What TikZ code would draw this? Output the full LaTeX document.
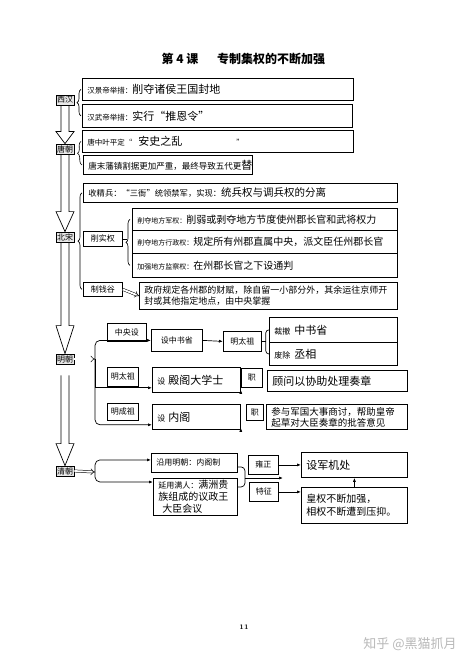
\documentclass[tikz,border=0pt]{standalone}
\usepackage{fontspec}
\newfontfamily\cjk{Noto Sans CJK SC}
\usetikzlibrary{arrows.meta,calc,decorations.pathreplacing}
\newcommand\ff[2]{\cjk\fontsize{#1}{#2}\selectfont}
\newcommand\bxn[7][]{\pgfmathsetmacro\mytw{#5-10}\node[box,minimum width=#5pt,minimum height=#6pt,text width=\mytw pt,#1] (#2) at (#3,#4) {#7};}
\newcommand\hollowarrow[4]{%
 \draw[line width=0.7pt] ($(#1.south)+(-4,#4)$) -- ($(#2.north)+(-4,-#3)$) -- ($(#2.north)+(-9,-#3)$) -- (#2.north) -- ($(#2.north)+(9,-#3)$) -- ($(#2.north)+(4,-#3)$) -- ($(#1.south)+(4,#4)$);}
\begin{document}
\begin{tikzpicture}[x=1pt,y=-1pt,
 box/.style={draw,line width=0.8pt,anchor=north west,inner xsep=5pt,inner ysep=0pt,align=left},
 lab/.style={draw,line width=0.8pt,anchor=north west,inner sep=0pt,align=center,font={\ff{8}{10}}},
 side/.style={draw,line width=0.8pt,fill=gray!18,inner sep=0.8pt,minimum width=18pt,minimum height=10pt,font={\ff{8}{9}}},
 brc/.style={decorate,decoration={brace,amplitude=4pt},line width=0.6pt},
 arr/.style={line width=0.7pt,-{Latex[length=4pt,width=3pt]}},
 dbl/.style={double,double distance=1.8pt,line width=0.5pt,-{Implies}}]
\fill[white] (0,0) rectangle (474,663);
\useasboundingbox (0,0) rectangle (474,663);

% title
\node[font={\ff{12}{14}\bfseries}] (t1) at (180,59) {第 4 课};
\node[font={\ff{12}{14}\bfseries}] (t2) at (271,59) {专制集权的不断加强};

% dynasties
\node[side] (xh) at (65,100) {西汉};
\node[side] (tc) at (65,149) {唐朝};
\node[side] (bs) at (65,237) {北宋};
\node[side] (mc) at (65,359) {明朝};
\node[side] (qc) at (65,471) {清朝};
\hollowarrow{xh}{tc}{12}{0}
\hollowarrow{tc}{bs}{20}{0}
\hollowarrow{bs}{mc}{28}{0}
\hollowarrow{mc}{qc}{22}{11}

% Han
\bxn{b1}{82}{78}{271}{22}{{\ff{7.5}{9}汉景帝举措：}{\ff{11}{13}削夺诸侯王国封地}}
\bxn{b2}{82}{104}{270}{23}{{\ff{7.5}{9}汉武帝举措：}{\ff{11}{13}实行“推恩令”}}
\draw[brc] ($(b2.west)+(-1,0)$) -- ($(b1.west)+(-1,0)$);

% Tang
\bxn{b3}{82}{130}{271}{22}{{\ff{7.5}{9}唐中叶平定“}\hspace{6pt}{\ff{11}{13}安史之乱}\hspace{54pt}{\ff{7.5}{9}”}}
\bxn{b4}{83}{155}{169}{19}{{\ff{8.5}{10}唐末藩镇割据更加严重，最终导致五代更}\rlap{\ff{11}{13}替}}
\draw[brc] ($(b4.west)+(-1,0)$) -- ($(b3.west)+(-1,0)$);

% Song
\bxn{b5}{83}{183}{314}{19}{{\ff{8.3}{10}收精兵：“三衙”统领禁军，实现：}{\ff{10.5}{12}统兵权与调兵权的分离}}
\node[lab,minimum width=39pt,minimum height=15pt] (sq) at (83,231) {削实权};
\bxn{jq}{132}{208}{265}{22}{{\ff{7}{9}削夺地方军权：}{\ff{10}{12}削弱或剥夺地方节度使州郡长官和武将权力}}
\bxn{xz}{132}{230}{265}{23}{{\ff{7}{9}削夺地方行政权：}{\ff{10}{12}规定所有州郡直属中央，派文臣任州郡长官}}
\bxn{jc}{132}{253}{265}{24}{{\ff{7}{9}加强地方监察权：}{\ff{10}{12}在州郡长官之下设通判}}
\draw[brc] ($(jc.west)+(-2,0)$) -- ($(jq.west)+(-2,0)$);
\draw[line width=0.6pt] (sq.east) -- ++(4,0);
\node[lab,minimum width=39pt,minimum height=14pt] (zq) at (83,282) {制钱谷};
\bxn[font={\ff{9}{11}}]{qg}{139}{282}{258}{27}{政府规定各州郡的财赋，除自留一小部分外，其余运往京师开\\封或其他指定地点，由中央掌握}
\draw[dbl] (zq.east) -- (qg.west);
\draw[brc] ($(zq.west)+(-1,0)$) -- ($(b5.west)+(-1,0)$);

% Ming
\node[lab,minimum width=39pt,minimum height=18pt] (zy) at (107,323) {中央设};
\node[lab,minimum width=51pt,minimum height=22pt] (sz) at (151,329) {设中书省};
\node[lab,minimum width=38pt,minimum height=20pt] (mtz) at (223,331) {明太祖};
\bxn{cc}{269}{317}{128}{25}{{\ff{8}{10}裁撤}\hspace{4pt}{\ff{11}{13}中书省}}
\bxn{fc}{269}{342}{128}{23}{{\ff{8}{10}废除}\hspace{4pt}{\ff{11}{13}丞相}}
\draw[arr] (sz.east) -- (mtz.west);
\coordinate (mb) at ($(mtz.east)+(4,0)$);
\draw[line width=0.7pt] (mtz.east) -- (mb);
\draw[line width=0.7pt,rounded corners=3pt] (cc.west) -| (mb) |- (fc.west);

\node[lab,minimum width=31pt,minimum height=19pt] (mt2) at (107,367) {明太祖};
\bxn{dg}{152}{367}{88}{25}{{\ff{8}{10}设}\hspace{3pt}{\ff{11}{13}殿阁大学士}}
\node[lab,minimum width=21pt,minimum height=19pt] (z1) at (241,368) {职};
\bxn{gw}{267}{370}{140}{21}{{\ff{11}{13}顾问以协助处理奏章}}
\draw[arr] ($(dg.south east)+(0,-3)$) -- ($(dg.south east)+(0,-3)$ -| gw.west);

\node[lab,minimum width=31pt,minimum height=17pt] (mcz) at (107,403) {明成祖};
\bxn{ng}{152}{404}{88}{25}{{\ff{8}{10}设}\hspace{3pt}{\ff{11}{13}内阁}}
\node[lab,minimum width=17pt,minimum height=16pt] (z2) at (246,404) {职};
\bxn[font={\ff{9.5}{11}}]{cy}{266}{404}{141}{25}{参与军国大事商讨，帮助皇帝\\起草对大臣奏章的批答意见}
\draw[arr] ($(ng.south east)+(0,-2)$) -- ($(ng.south east)+(0,-2)$ -| cy.west);

\coordinate (mj) at (95,359);
\draw[dbl] (mc.east) -- (mj);
\draw[arr,rounded corners=5pt] (mj) |- (sz.west);
\draw[arr] (mj) |- ($(dg.south west)+(0,-5)$);
\draw[arr,rounded corners=5pt] (mj) |- ($(ng.south west)+(0,-5)$);

% Qing
\bxn{yy}{151}{453}{86}{19}{{\ff{8}{10}沿用明朝：内阁制}}
\bxn[font={\ff{10}{12}}]{ym}{153}{478}{84}{37}{{\ff{8}{12}延用满人：}满洲贵\\族组成的议政王\\\hspace*{4pt}大臣会议}
\coordinate (qj) at (95,472);
\draw[dbl] (qc.east) -- (qj);
\draw[arr,rounded corners=5pt] (qj) |- ($(yy.west)+(0,-3)$);
\draw[arr,rounded corners=5pt] (qj) |- ($(ym.north west)+(0,4)$);
\node[lab,minimum width=30pt,minimum height=19pt] (yz) at (248,455) {雍正};
\node[lab,minimum width=29pt,minimum height=19pt] (tz) at (249,482) {特征};
\bxn{jj}{301}{452}{106}{25}{{\ff{11}{13}设军机处}\\[6pt]}
\bxn[font={\ff{10}{13}}]{hq}{301}{487}{106}{36}{皇权不断加强，\\相权不断遭到压抑。}
\coordinate (qm) at (245,478);
\coordinate (qe) at (283,478);
\draw[line width=0.7pt,rounded corners=4pt] ($(yy.east)+(0,4)$) -| (qm);
\draw[line width=0.7pt,rounded corners=4pt] ($(ym.north east)+(0,9)$) -| (qm);
\draw[arr] (qm) -- (qe);
\draw[arr] (yz.east) -- (yz.east -| jj.west);
\draw[arr] (tz.east) -- (tz.east -| hq.west);
\draw[arr] (hq.north) -- (jj.south);

% footer
\node[font=\fontsize{7}{8}\selectfont\bfseries] (pn) at (244,627) {11};
\node[font={\ff{13}{15}},text=gray!55] (wm) at (410,644) {知乎 @黑猫抓月};
\end{tikzpicture}
\end{document}
